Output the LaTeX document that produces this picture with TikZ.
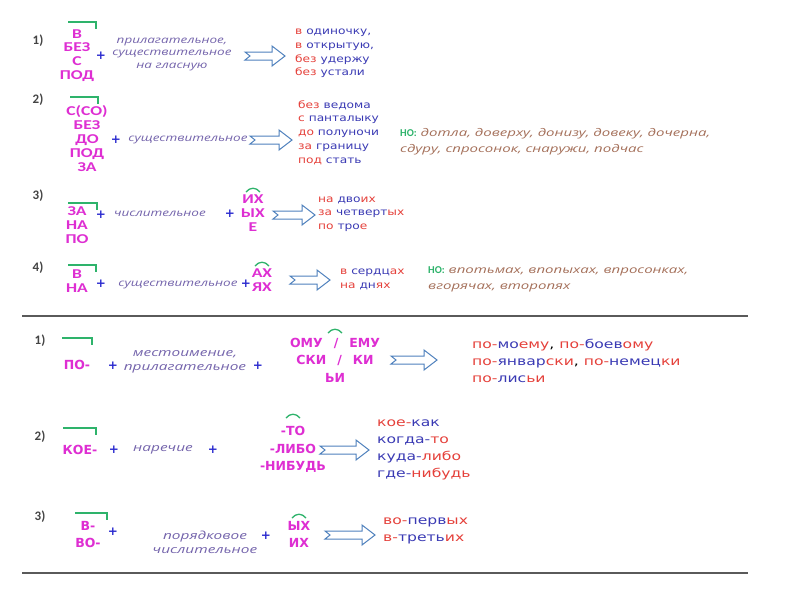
\documentclass[tikz,border=0pt]{standalone}
\usepackage{fontspec}
\newfontfamily\carlito{Carlito}
\newfontfamily\pkA{Carlito}[FakeStretch=1.3]
\newfontfamily\dejavu{DejaVu Sans}
\newfontfamily\resAf{DejaVu Sans}[FakeStretch=1.22]
\newfontfamily\resBf{DejaVu Sans}[FakeStretch=1.3]
\newfontfamily\itA{Open Sans}[FakeStretch=1.35]
\newfontfamily\itB{Open Sans}[FakeStretch=1.4]
\newfontfamily\itH{Open Sans}[FakeStretch=1.43]
\definecolor{pinkc}{HTML}{DE2ED2}
\definecolor{plusc}{HTML}{2A2ACF}
\definecolor{italc}{HTML}{7464AC}
\definecolor{redc}{HTML}{E5403A}
\definecolor{bluec}{HTML}{3A3AB4}
\definecolor{greenc}{HTML}{2EB36B}
\definecolor{brownc}{HTML}{A5705A}
\definecolor{arrowc}{HTML}{4F81BD}
\definecolor{numc}{HTML}{444444}
\definecolor{linec}{HTML}{5A5A5A}
\newcommand\cR[1]{\textcolor{redc}{#1}}
\newcommand\cB[1]{\textcolor{bluec}{#1}}
\newcommand\harrow[3]{%
  \draw[harr] (#1,#3-4) -- (#2-13,#3-4) -- (#2-13,#3-10) -- (#2,#3) -- (#2-13,#3+10) -- (#2-13,#3+4) -- (#1,#3+4) -- (#1+5,#3) -- cycle;}
\newcommand\hcap[2]{%
  \draw[capl] (#1-7,#2+3) .. controls (#1-3,#2-2) and (#1+3,#2-2) .. (#1+7,#2+3);}
\newcommand\brk[3]{%
  \draw[brkl] (#1,#3) -- (#2,#3) -- (#2,#3+7);}
\tikzset{
  num/.style={font=\carlito\bfseries\fontsize{13}{15}\selectfont, text=numc, inner sep=0pt},
  pinkA/.style={font=\pkA\bfseries\fontsize{13.5}{13.8}\selectfont, text=pinkc, align=center, inner sep=0pt},
  pinkB/.style={font=\dejavu\bfseries\fontsize{12.5}{17.5}\selectfont, text=pinkc, align=center, inner sep=0pt},
  plus/.style={font=\dejavu\bfseries\fontsize{12}{14}\selectfont, text=plusc, inner sep=0pt},
  ital/.style={font=\itA\itshape\fontsize{10}{12.5}\selectfont, text=italc, align=center, inner sep=0pt},
  italB/.style={font=\itB\itshape\fontsize{11}{14}\selectfont, text=italc, align=center, inner sep=0pt},
  res/.style={font=\resAf\fontsize{10}{13.7}\selectfont, anchor=west, align=left, inner sep=0pt},
  resB/.style={font=\resBf\fontsize{12}{17}\selectfont, anchor=west, align=left, inner sep=0pt},
  hono/.style={font=\itH\itshape\fontsize{10.5}{16}\selectfont, text=brownc, anchor=west, align=left, inner sep=0pt},
  harr/.style={draw=arrowc, fill=white, line width=1pt, line join=miter},
  capl/.style={draw=greenc, line width=1.3pt},
  brkl/.style={draw=greenc, line width=1.3pt},
  sepl/.style={draw=linec, line width=2.6pt}
}
\newcommand\honame{\textcolor{greenc}{\carlito\bfseries\upshape НО:}}
\begin{document}
\begin{tikzpicture}[x=1pt,y=-1pt]
\fill[white] (0,0) rectangle (800,600);
\useasboundingbox (0,0) rectangle (800,600);
% ---------- Section 1, row 1
\node[num] (n1) at (38,41) {1)};
\brk{68}{96}{22}
\node[pinkA] (p1) at (77,55.5) {В\\БЕЗ\\С\\ПОД};
\node[plus] (pl1) at (101,56) {+};
\node[ital] (i1) at (172,54) {прилагательное,\\существительное\\на гласную};
\harrow{245}{285}{56}
\node[res] (r1) at (295,53.5) {\cR{в} \cB{одиночку,}\\\cR{в} \cB{открытую,}\\\cR{без} \cB{удержу}\\\cR{без} \cB{устали}};
% ---------- row 2
\node[num] (n2) at (38,100) {2)};
\brk{70}{98}{97}
\node[pinkA] (p2) at (87,138.5) {С(СО)\\БЕЗ\\ДО\\ПОД\\ЗА};
\node[plus] (pl2) at (116,140) {+};
\node[ital] (i2) at (188,140) {существительное};
\harrow{250}{292}{140}
\node[res] (r2) at (298,132.5) {\cR{без} \cB{ведома}\\\cR{с} \cB{панталыку}\\\cR{до} \cB{полуночи}\\\cR{за} \cB{границу}\\\cR{под} \cB{стать}};
\node[hono] (h2) at (400,141.5) {\honame{} дотла, доверху, донизу, довеку, дочерна,\\сдуру, спросонок, снаружи, подчас};
% ---------- row 3
\node[num] (n3) at (38,196) {3)};
\brk{68}{97}{203}
\node[pinkA] (p3) at (77,225) {ЗА\\НА\\ПО};
\node[plus] (pl3a) at (101,215) {+};
\node[ital] (i3) at (160,214) {числительное};
\node[plus] (pl3b) at (230,214) {+};
\hcap{253}{189}
\node[pinkA] (s3) at (253,213) {ИХ\\ЫХ\\Е};
\harrow{273}{315}{215}
\node[res] (r3) at (318,214) {\cR{на} \cB{дво}\cR{их}\\\cR{за} \cB{четверт}\cR{ых}\\\cR{по} \cB{тро}\cR{е}};
% ---------- row 4
\node[num] (n4) at (38,268) {4)};
\brk{68}{96}{265}
\node[pinkA] (p4) at (77,281) {В\\НА};
\node[plus] (pl4a) at (101,284) {+};
\node[ital] (i4) at (178,285) {существительное};
\node[plus] (pl4b) at (246,284) {+};
\hcap{262}{263}
\node[pinkA] (s4) at (262,280.5) {АХ\\ЯХ};
\harrow{290}{330}{280}
\node[res] (r4) at (340,279.5) {\cR{в} \cB{сердц}\cR{ах}\\\cR{на} \cB{дн}\cR{ях}};
\node[hono] (h4) at (428,279.5) {\honame{} впотьмах, впопыхах, впросонках,\\вгорячах, второпях};
% ---------- separator
\coordinate (sa1) at (22,316);
\coordinate (sa2) at (748,316);
\draw[sepl] (sa1) -- (sa2);
% ---------- Section 2, row 1
\node[num] (m1) at (40,341) {1)};
\brk{62}{92}{338}
\node[pinkB] (q1) at (77,365) {ПО-};
\node[plus] (ql1a) at (113,366) {+};
\node[italB] (j1) at (185,361.5) {местоимение,\\прилагательное};
\node[plus] (ql1b) at (258,366) {+};
\hcap{335}{330}
\node[pinkB] (t1) at (335,360) {ОМУ\hspace{11pt}/\hspace{11pt}ЕМУ\\СКИ\hspace{11pt}/\hspace{11pt}КИ\\ЬИ};
\harrow{391}{437}{360}
\node[resB] (u1) at (472,361) {\cR{по-}\cB{мо}\cR{ему}, \cR{по-}\cB{боев}\cR{ому}\\\cR{по-}\cB{январ}\cR{ски}, \cR{по-}\cB{немец}\cR{ки}\\\cR{по-}\cB{лис}\cR{ьи}};
% ---------- row 2
\node[num] (m2) at (40,437) {2)};
\brk{63}{96}{428}
\node[pinkB] (q2) at (80,450) {КОЕ-};
\node[plus] (ql2a) at (114,450) {+};
\node[italB] (j2) at (163,450) {наречие};
\node[plus] (ql2b) at (213,450) {+};
\hcap{293}{415}
\node[pinkB] (t2) at (293,449.5) {-ТО\\-ЛИБО\\-НИБУДЬ};
\harrow{320}{369}{450}
\node[resB] (u2) at (377,449.5) {\cR{кое-}\cB{как}\\\cB{когда-}\cR{то}\\\cB{куда-}\cR{либо}\\\cB{где-}\cR{нибудь}};
% ---------- row 3
\node[num] (m3) at (40,517) {3)};
\brk{75}{107}{513}
\node[pinkB] (q3) at (88,534.5) {В-\\ВО-};
\node[plus] (ql3a) at (113,532) {+};
\node[italB] (j3) at (205,542.5) {порядковое\\числительное};
\node[plus] (ql3b) at (266,536) {+};
\hcap{299}{515}
\node[pinkB] (t3) at (299,534.5) {ЫХ\\ИХ};
\harrow{325}{375}{535}
\node[resB] (u3) at (383,531) {\cR{во-}\cB{перв}\cR{ых}\\\cR{в-}\cB{треть}\cR{их}};
% ---------- separator
\coordinate (sb1) at (22,573);
\coordinate (sb2) at (748,573);
\draw[sepl] (sb1) -- (sb2);
\end{tikzpicture}
\end{document}
